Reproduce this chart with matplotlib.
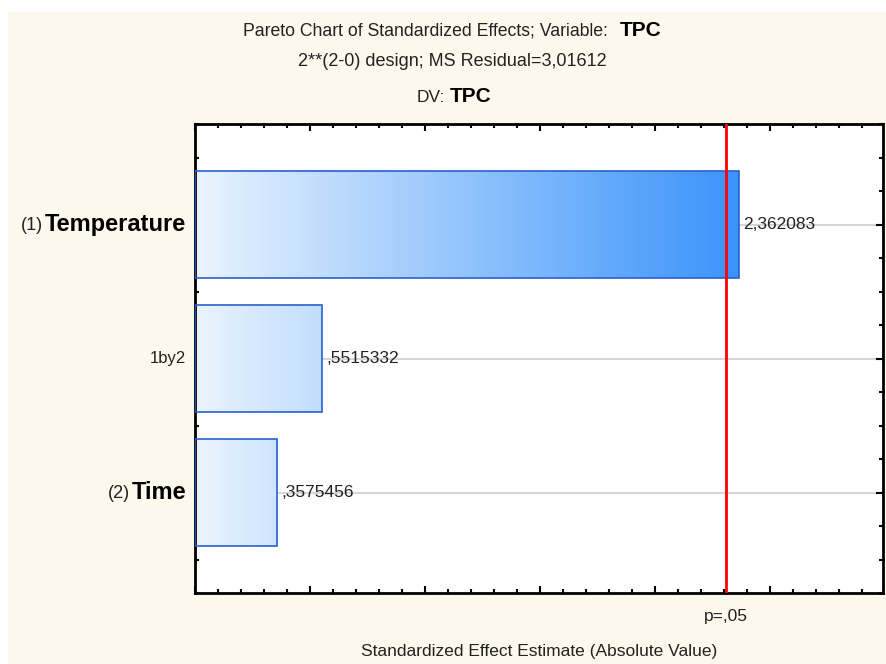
import numpy as np
import matplotlib
matplotlib.use("Agg")
from matplotlib import pyplot as plt
from matplotlib.colors import LinearSegmentedColormap
from matplotlib.ticker import MultipleLocator
from matplotlib.patches import Rectangle
import matplotlib.transforms as mtransforms

plt.rcParams['font.family'] = ['Liberation Sans', 'DejaVu Sans']

# effects, top to bottom
prefixes = ["(1)", "", "(2)"]
names = ["Temperature", "1by2", "Time"]
bold_names = [True, False, True]
values = [2.362083, 0.5515332, 0.3575456]
p_crit = 2.306

bg = '#fdf8ec'
txtc = '#222222'
fig = plt.figure(figsize=(8.86, 6.64), dpi=100, facecolor=bg)
# white strips at top and left of the screenshot
fig.patches.append(Rectangle((0, 1 - 12 / 664), 1, 12 / 664, transform=fig.transFigure,
                             facecolor='white', edgecolor='none', zorder=0))
fig.patches.append(Rectangle((0, 0), 8 / 886, 1, transform=fig.transFigure,
                             facecolor='white', edgecolor='none', zorder=0))

ax = fig.add_axes([195 / 886, 1 - 593 / 664, 688 / 886, 469 / 664])
ax.set_facecolor('white')

ypos = np.arange(len(values))
bar_h = 0.8
cmap = LinearSegmentedColormap.from_list('grad', ['#eaf4fe', '#3a93fb'])
gmax = max(values)

# grid lines at each effect
for y in ypos:
    ax.axhline(y, color='#d6d6d6', lw=1.5, zorder=0)

bars = ax.barh(ypos, values, height=bar_h, facecolor='none', edgecolor='#2a5fcf',
               lw=1.2, zorder=3)
for b, v, y in zip(bars, values, ypos):
    grad = np.linspace(0, v / gmax, 256).reshape(1, -1)
    im = ax.imshow(grad, cmap=cmap, vmin=0, vmax=1, aspect='auto',
                   extent=(0, v, y + bar_h / 2, y - bar_h / 2), zorder=2)
    im.set_clip_path(b)
    txt = f"{v:.7g}".replace('.', ',')
    if txt.startswith('0'):
        txt = txt[1:]
    ax.annotate(txt, xy=(v, y), xytext=(3, 0), textcoords='offset points',
                ha='left', va='center', fontsize=12.5, color=txtc, zorder=4)

ax.axvline(p_crit, color='#ff0000', lw=2, zorder=5)

ax.set_xlim(0, 2.99)
ax.set_ylim(len(values) - 0.25, -0.75)

ax.xaxis.set_major_locator(MultipleLocator(0.5))
ax.xaxis.set_minor_locator(MultipleLocator(0.1))
ax.yaxis.set_major_locator(MultipleLocator(1))
ax.yaxis.set_minor_locator(MultipleLocator(0.25))
ax.tick_params(which='both', direction='in', top=True, right=True, width=1.5,
               labelbottom=False, labelleft=False, color='black')
ax.tick_params(which='major', length=5)
ax.tick_params(which='minor', length=3)
for s in ax.spines.values():
    s.set_linewidth(2)

# effect labels on the left
trans = mtransforms.offset_copy(ax.get_yaxis_transform(), fig=fig, x=-9, y=0, units='dots')
for y, pre, name, bold in zip(ypos, prefixes, names, bold_names):
    if bold:
        t = ax.text(0, y, name, transform=trans, ha='right', va='center',
                    fontsize=17, fontweight='bold', color='black')
        ax.annotate(pre, xy=(0, 0.45), xycoords=t, xytext=(-1, 0),
                    textcoords='offset points', ha='right', va='center',
                    fontsize=13, color=txtc)
    else:
        ax.text(0, y, pre + name, transform=trans, ha='right', va='center',
                fontsize=12, color=txtc)

# p=.05 label under the red line
ax.text(p_crit, -0.035, "p=,05", transform=ax.get_xaxis_transform(),
        ha='center', va='top', fontsize=12.5, color=txtc)

ax.set_xlabel("Standardized Effect Estimate (Absolute Value)", fontsize=12.5,
              color=txtc, labelpad=37)

# titles
fig.text(608 / 886, 1 - 31 / 664, "Pareto Chart of Standardized Effects; Variable:",
         ha='right', va='center', fontsize=12.7, color=txtc)
fig.text(620 / 886, 1 - 30 / 664, "TPC", ha='left', va='center', fontsize=15,
         fontweight='bold', color='black')
fig.text(452 / 886, 1 - 62 / 664, "2**(2-0) design; MS Residual=3,01612",
         ha='center', va='center', fontsize=13, color=txtc)
fig.text(445 / 886, 1 - 98 / 664, "DV:", ha='right', va='center', fontsize=12.5,
         color=txtc)
fig.text(450 / 886, 1 - 97 / 664, "TPC", ha='left', va='center', fontsize=15,
         fontweight='bold', color='black')

fig.savefig("out.png", dpi=100, facecolor=fig.get_facecolor())
